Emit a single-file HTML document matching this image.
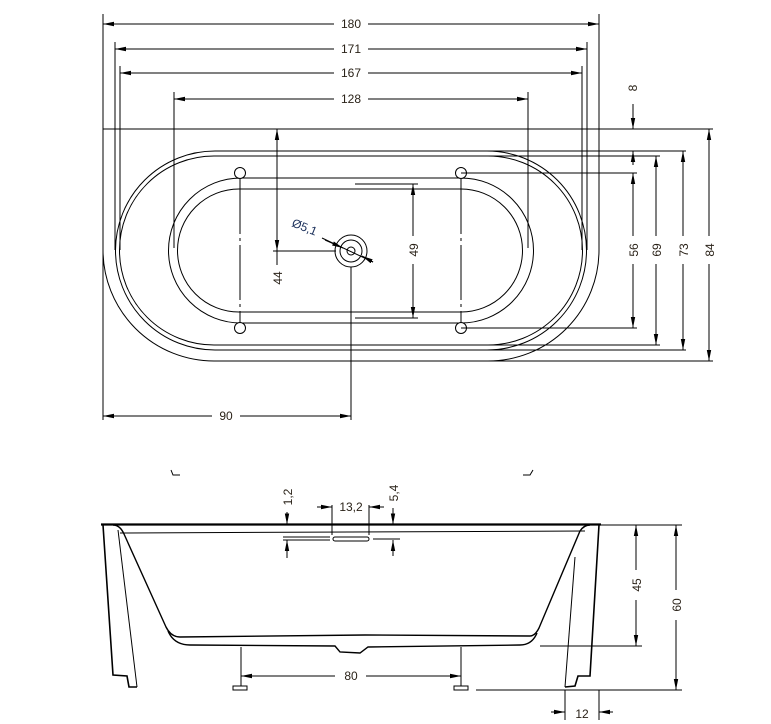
<!DOCTYPE html>
<html><head><meta charset="utf-8"><style>
html,body{margin:0;padding:0;background:#fff;}
svg{display:block;}
text{font-family:"Liberation Sans",sans-serif;font-size:12px;fill:#2a2218;}
</style></head><body>
<svg width="771" height="724" viewBox="0 0 771 724" xmlns="http://www.w3.org/2000/svg">
<defs>
<marker id="a" markerWidth="12" markerHeight="6" refX="11" refY="3" orient="auto-start-reverse" markerUnits="userSpaceOnUse">
<path d="M0,0.8 L11,3 L0,5.2 Z" fill="#000"/></marker>
</defs>
<g stroke="#000" stroke-width="1" fill="none">
<!-- top dims -->
<line x1="103" y1="14" x2="103" y2="420"/>
<line x1="599" y1="14" x2="599" y2="129"/>
<line x1="115" y1="42" x2="115" y2="250"/>
<line x1="587" y1="42" x2="587" y2="250"/>
<line x1="120" y1="66" x2="120" y2="250"/>
<line x1="582" y1="66" x2="582" y2="250"/>
<line x1="174" y1="92" x2="174" y2="248"/>
<line x1="528" y1="92" x2="528" y2="248"/>
<line x1="103" y1="24" x2="334" y2="24" marker-start="url(#a)"/>
<line x1="368" y1="24" x2="599" y2="24" marker-end="url(#a)"/>
<line x1="115" y1="49" x2="334" y2="49" marker-start="url(#a)"/>
<line x1="368" y1="49" x2="587" y2="49" marker-end="url(#a)"/>
<line x1="120" y1="73" x2="334" y2="73" marker-start="url(#a)"/>
<line x1="368" y1="73" x2="582" y2="73" marker-end="url(#a)"/>
<line x1="174" y1="99" x2="334" y2="99" marker-start="url(#a)"/>
<line x1="368" y1="99" x2="528" y2="99" marker-end="url(#a)"/>
<!-- outer -->
<line x1="103" y1="129" x2="713" y2="129"/>
<path d="M103,129 L103,250 A111,111 0 0 0 214,361 L488,361 A111,111 0 0 0 599,250 L599,129"/>
<line x1="488" y1="361" x2="713" y2="361"/>
<!-- rim rings -->
<path d="M215,151 L487,151 A99.5,99.5 0 0 1 487,350 L215,350 A99.5,99.5 0 0 1 215,151 Z"/>
<path d="M214,156 L488,156 A94.5,94.5 0 0 1 488,345 L214,345 A94.5,94.5 0 0 1 214,156 Z"/>
<path d="M241,178 L461,178 A72.5,72.5 0 0 1 461,323 L241,323 A72.5,72.5 0 0 1 241,178 Z"/>
<path d="M239,189 L461,189 A61.5,61.5 0 0 1 461,312 L239,312 A61.5,61.5 0 0 1 239,189 Z"/>
<!-- holes -->
<circle cx="240" cy="173" r="5.5" fill="#fff"/>
<circle cx="240" cy="328" r="5.5" fill="#fff"/>
<circle cx="461" cy="173" r="5.5" fill="#fff"/>
<circle cx="461" cy="328" r="5.5" fill="#fff"/>
<line x1="240" y1="179" x2="240" y2="322" stroke-dasharray="55,4,3,4"/>
<line x1="461" y1="179" x2="461" y2="322" stroke-dasharray="55,4,3,4"/>
<!-- drain -->
<circle cx="351" cy="251" r="16"/>
<circle cx="351" cy="251" r="11"/>
<circle cx="351" cy="251" r="4"/>
<line x1="351" y1="267" x2="351" y2="420"/>
<line x1="333" y1="156" x2="368" y2="156"/>
<line x1="355" y1="184" x2="418" y2="184"/>
<line x1="355" y1="318" x2="418" y2="318"/>
<line x1="322" y1="238" x2="373" y2="262"/>
<line x1="325" y1="240" x2="343" y2="248" marker-end="url(#a)"/>
<line x1="373" y1="262" x2="362" y2="256" marker-end="url(#a)"/>
<!-- 44 -->
<line x1="273" y1="251" x2="336" y2="251"/>
<line x1="277" y1="129" x2="277" y2="251" marker-start="url(#a)" marker-end="url(#a)"/>
<line x1="277" y1="251" x2="277" y2="265"/>
<!-- 49 -->
<line x1="413" y1="184" x2="413" y2="236" marker-start="url(#a)"/>
<line x1="413" y1="264" x2="413" y2="318" marker-end="url(#a)"/>
<!-- 90 -->
<line x1="103" y1="416" x2="212" y2="416" marker-start="url(#a)"/>
<line x1="240" y1="416" x2="351" y2="416" marker-end="url(#a)"/>
<!-- right dims -->
<line x1="488" y1="151" x2="686" y2="151"/>
<line x1="488" y1="156" x2="660" y2="156"/>
<line x1="461" y1="173" x2="637" y2="173"/>
<line x1="461" y1="328" x2="637" y2="328"/>
<line x1="488" y1="345" x2="660" y2="345"/>
<line x1="488" y1="350" x2="686" y2="350"/>
<line x1="633" y1="104" x2="633" y2="129" marker-end="url(#a)"/>
<line x1="633" y1="165" x2="633" y2="151" marker-end="url(#a)"/>
<line x1="633" y1="173" x2="633" y2="236" marker-start="url(#a)"/>
<line x1="633" y1="264" x2="633" y2="328" marker-end="url(#a)"/>
<line x1="656" y1="156" x2="656" y2="236" marker-start="url(#a)"/>
<line x1="656" y1="264" x2="656" y2="345" marker-end="url(#a)"/>
<line x1="683" y1="151" x2="683" y2="236" marker-start="url(#a)"/>
<line x1="683" y1="264" x2="683" y2="350" marker-end="url(#a)"/>
<line x1="709" y1="129" x2="709" y2="236" marker-start="url(#a)"/>
<line x1="709" y1="264" x2="709" y2="361" marker-end="url(#a)"/>
<!-- side view -->
<path d="M171,470 L173,475 L180,475"/>
<path d="M523,475 L530,475 L533,470"/>
<line x1="101" y1="524.5" x2="601" y2="524.5" stroke-width="2.2"/>
<line x1="120" y1="533" x2="585" y2="531"/>
<path d="M103,525 L113,675 L127,676 L129,687 L137,687" stroke-width="1.6"/>
<line x1="118" y1="530" x2="137" y2="687"/>
<path d="M113,525 Q120,525 124,534 L166,627 Q171,637 180,637 L365,635 L530,636 Q535,636 539,628 L580,531 Q584,525 590,525" stroke-width="1.4"/>
<path d="M168,631 Q174,645 190,645 L335,646 L340,652 L360,653 L368,647 L520,645 Q532,645 537,633" stroke-width="1.4"/>
<path d="M599,525 L590,676 L578,676 L575,686 L565,687" stroke-width="1.6"/>
<line x1="575" y1="557" x2="565" y2="687"/>
<line x1="540" y1="646" x2="642" y2="646"/>
<line x1="476" y1="690" x2="682" y2="690"/>
<line x1="599" y1="525" x2="682" y2="525"/>
<line x1="636" y1="525" x2="636" y2="570" marker-start="url(#a)"/>
<line x1="636" y1="600" x2="636" y2="646" marker-end="url(#a)"/>
<line x1="676" y1="525" x2="676" y2="590" marker-start="url(#a)"/>
<line x1="676" y1="620" x2="676" y2="690" marker-end="url(#a)"/>
<!-- legs -->
<rect x="233" y="686" width="14" height="4"/>
<rect x="454" y="686" width="14" height="4"/>
<line x1="241" y1="647" x2="241" y2="686"/>
<line x1="461" y1="647" x2="461" y2="686"/>
<line x1="241" y1="676" x2="335" y2="676" marker-start="url(#a)"/>
<line x1="366" y1="676" x2="461" y2="676" marker-end="url(#a)"/>
<line x1="565" y1="690" x2="565" y2="720"/>
<line x1="599" y1="690" x2="599" y2="720"/>
<line x1="551" y1="712" x2="565" y2="712" marker-end="url(#a)"/>
<line x1="613" y1="712" x2="599" y2="712" marker-end="url(#a)"/>
<!-- overflow -->
<rect x="333" y="537" width="36" height="4" rx="2"/>
<line x1="283" y1="537" x2="330" y2="537"/>
<line x1="283" y1="540" x2="330" y2="540"/>
<line x1="373" y1="539" x2="400" y2="539"/>
<line x1="332" y1="505" x2="332" y2="535"/>
<line x1="369" y1="505" x2="369" y2="535"/>
<line x1="317" y1="507" x2="332" y2="507" marker-end="url(#a)"/>
<line x1="384" y1="507" x2="369" y2="507" marker-end="url(#a)"/>
<line x1="287" y1="512" x2="287" y2="524.5" marker-end="url(#a)"/>
<line x1="287" y1="558" x2="287" y2="540" marker-end="url(#a)"/>
<line x1="393" y1="508" x2="393" y2="524.5" marker-end="url(#a)"/>
<line x1="393" y1="556" x2="393" y2="540" marker-end="url(#a)"/>
</g>
<g>
<text x="351" y="28" text-anchor="middle">180</text>
<text x="351" y="53" text-anchor="middle">171</text>
<text x="351" y="77" text-anchor="middle">167</text>
<text x="351" y="103" text-anchor="middle">128</text>
<text x="226" y="420" text-anchor="middle">90</text>
<text transform="translate(282,278) rotate(-90)" text-anchor="middle">44</text>
<text transform="translate(418,250) rotate(-90)" text-anchor="middle">49</text>
<text transform="translate(291,226) rotate(22)" style="fill:#1a2f5a">Ø5,1</text>
<text transform="translate(637,88) rotate(-90)" text-anchor="middle">8</text>
<text transform="translate(638,250) rotate(-90)" text-anchor="middle">56</text>
<text transform="translate(661,250) rotate(-90)" text-anchor="middle">69</text>
<text transform="translate(688,250) rotate(-90)" text-anchor="middle">73</text>
<text transform="translate(714,250) rotate(-90)" text-anchor="middle">84</text>
<text transform="translate(641,585) rotate(-90)" text-anchor="middle">45</text>
<text transform="translate(681,605) rotate(-90)" text-anchor="middle">60</text>
<text x="351" y="680" text-anchor="middle">80</text>
<text x="582" y="718" text-anchor="middle">12</text>
<text x="351" y="511" text-anchor="middle">13,2</text>
<text transform="translate(292,497) rotate(-90)" text-anchor="middle">1,2</text>
<text transform="translate(398,493) rotate(-90)" text-anchor="middle">5,4</text>
</g>
</svg>
</body></html>
